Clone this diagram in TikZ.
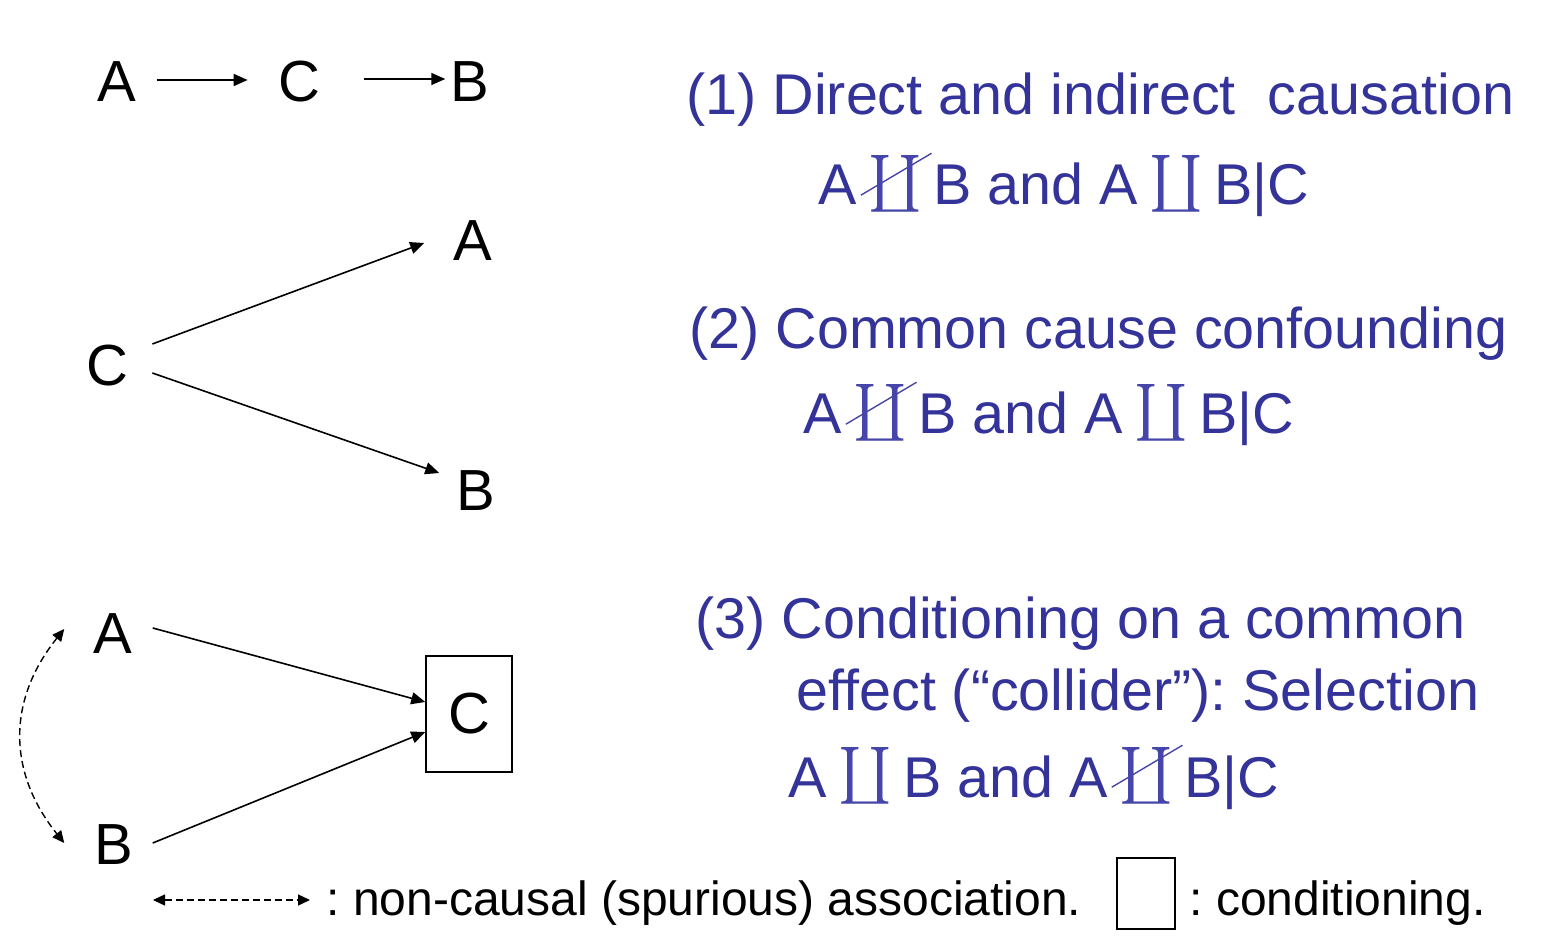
\documentclass[tikz,border=0pt]{standalone}
\usepackage{graphicx}
\usepackage{exscale}
\usepackage{fontspec}
\setmainfont{Liberation Sans}
\usetikzlibrary{arrows.meta,calc}
\definecolor{titleblue}{RGB}{51,51,153}
\definecolor{indblue}{RGB}{70,70,170}
\frenchspacing
% independence sign, and the same sign struck through
\newcommand{\indep}{\kern-0.08em\textcolor{indblue}{\raisebox{0.12em}{\scalebox{1.14}{$\coprod$}}}\kern-0.08em}
\newcommand{\notind}{\tikz[baseline=0pt]{\node[inner sep=0pt,anchor=base west] (s) at (0pt,0pt) {\indep};
    \draw[overlay,indblue,line width=0.7pt] (-0.2em,0.17em) -- (1.03em,0.9em);}}
\tikzset{
  var/.style={inner sep=0pt, font=\fontsize{29}{34}\selectfont},
  cbox/.style={draw, line width=0.75pt, inner sep=0pt},
  arr/.style={-{Triangle[length=7pt,width=6pt]}, line width=0.8pt},
  spur/.style={{Triangle[length=6pt,width=5.5pt]}-{Triangle[length=6pt,width=5.5pt]}, dash pattern=on 3.5pt off 2pt, line width=0.7pt},
  title/.style={anchor=base west, inner sep=0pt, text=titleblue, font=\fontsize{28.75}{34}\selectfont},
  legend/.style={anchor=base west, inner sep=0pt, font=\fontsize{24}{28}\selectfont}
}
\begin{document}
\begin{tikzpicture}[x=0.5pt,y=-0.5pt]
  \useasboundingbox (0,0) rectangle (1558,946);
  % (1) chain
  \node[var] (a1) at (117,82) {A};
  \node[var] (c1) at (299,82) {C};
  \node[var] (b1) at (470,82) {B};
  \draw[arr] ($(a1.east)+(20,-2)$) -- ($(c1.west)+(-30,-2)$);
  \draw[arr] ($(c1.east)+(44,-3)$) -- ($(b1.west)+(-5,-3)$);
  % (2) fork
  \node[var] (a2) at (473,241) {A};
  \node[var] (c2) at (107,366) {C};
  \node[var] (b2) at (476,491) {B};
  \draw[arr] ($(c2.east)+(24,-22)$) -- ($(a2.west)+(-29,2)$);
  \draw[arr] ($(c2.east)+(24,7)$) -- ($(b2.west)+(-17,-18)$);
  % (3) collider
  \node[var] (a3) at (113,634) {A};
  \node[var] (b3) at (114,845) {B};
  \node[var,cbox,minimum width=43pt,minimum height=58pt] (c3) at (469,714) {C};
  \draw[arr] ($(a3.east)+(20,-6)$) -- ($(c3.west)+(0,-12)$);
  \draw[arr] ($(b3.east)+(19,-2)$) -- ($(c3.west)+(0,18)$);
  \draw[spur] ($(a3.west)+(-29,-5)$) .. controls +(-57,71) and +(-57,-71) .. ($(b3.west)+(-30,-2)$);

  % texts on the right
  \node[title] (t1) at (686,115) {(1) Direct and indirect\ \ causation};
  \node[title] (r1) at (818,205) {A \notind{} B and A \indep{} B|C};
  \node[title] (t2) at (689,349) {(2) Common cause confounding};
  \node[title] (r2) at (803,434) {A \notind{} B and A \indep{} B|C};
  \node[title] (t3) at (695,638) {(3) Conditioning on a common};
  \node[title] (t3b) at (796,710) {effect (“collider”): Selection};
  \node[title] (r3) at (788,797) {A \indep{} B and A \notind{} B|C};

  % legend
  \coordinate (l1) at (153,900);
  \coordinate (l2) at (310,900);
  \draw[spur] (l1) -- (l2);
  \node[legend] (lg1) at (326,915) {: non-causal (spurious) association.};
  \node[cbox,minimum width=29pt,minimum height=35.5pt] (lbox) at (1146,893.5) {};
  \node[legend] (lg2) at (1189,915) {: conditioning.};
\end{tikzpicture}
\end{document}
